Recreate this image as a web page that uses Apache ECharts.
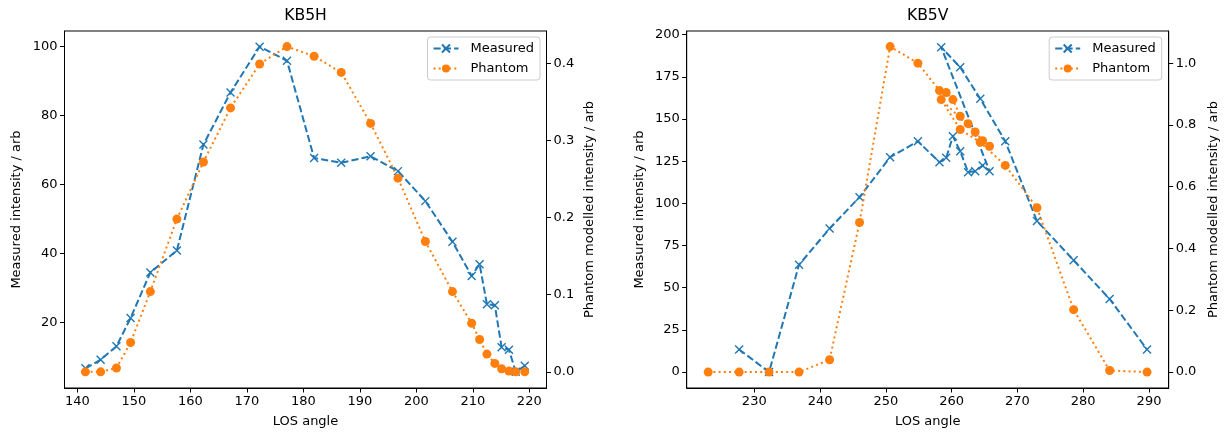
<!DOCTYPE html>
<html><head><meta charset="utf-8">
<script src="https://cdn.jsdelivr.net/npm/echarts@6/dist/echarts.min.js"></script>
<style>html,body{margin:0;padding:0;background:#fff}#c{width:1227px;height:433px}</style>
</head><body><div id="c"></div><script>
// ---- KB5H (left panel) ----
const kb5hAngle    = [141.4, 144.1, 146.9, 149.4, 152.9, 157.6, 162.3, 167.1, 172.25, 177.1, 181.9, 186.7, 191.9, 196.75, 201.6, 206.4, 209.8, 211.2, 212.5, 213.9, 215.1, 216.4, 217.6, 219.2];
const kb5hMeasured = [6.7, 9.2, 13.1, 21.3, 34.5, 40.9, 71.6, 86.7, 100.0, 95.9, 67.7, 66.3, 68.2, 63.9, 55.2, 43.4, 33.5, 36.9, 25.3, 25.0, 12.8, 12.1, 5.7, 7.45];
const kb5hPhantom  = [0.0, 0.0, 0.005, 0.038, 0.104, 0.198, 0.272, 0.342, 0.399, 0.4215, 0.409, 0.388, 0.322, 0.251, 0.169, 0.104, 0.063, 0.042, 0.023, 0.011, 0.004, 0.001, 0.0, 0.0];
const kb5hXTicks    = [140, 150, 160, 170, 180, 190, 200, 210, 220];
const kb5hMeasTicks = [20, 40, 60, 80, 100];
const kb5hPhanTicks = [0.0, 0.1, 0.2, 0.3, 0.4];

// ---- KB5V (right panel) ----
const kb5vAngle    = [223.0, 227.7, 232.25, 236.8, 241.45, 246.0, 250.65, 254.87, 258.15, 259.17, 260.19, 261.3, 262.5, 263.58, 264.7, 265.76, 258.41, 261.3, 264.35, 268.15, 272.97, 278.54, 284.01, 289.7];
const kb5vMeasured = [null, 13.4, 0.0, 63.6, 85.1, 103.7, 127.4, 136.8, 124.4, 127.0, 139.8, 130.9, 118.5, 119.1, 122.4, 119.1, 192.6, 180.7, 162.0, 136.8, 89.5, 66.3, 43.3, 13.4];
const kb5vPhantom  = [0.0, 0.0, 0.0, 0.0, 0.040, 0.484, 1.0535, 1.0, 0.911, 0.905, 0.882, 0.828, 0.804, 0.777, 0.749, 0.731, 0.882, 0.785, 0.744, 0.669, 0.532, 0.202, 0.005, 0.0];
const kb5vXTicks    = [230, 240, 250, 260, 270, 280, 290];
const kb5vMeasTicks = [0, 25, 50, 75, 100, 125, 150, 175, 200];
const kb5vPhanTicks = [0.0, 0.2, 0.4, 0.6, 0.8, 1.0];

const titles = ['KB5H', 'KB5V'];
const seriesNames = ['Measured', 'Phantom'];
const xName = 'LOS angle';
const yLeftName = 'Measured intensity / arb';
const yRightName = 'Phantom modelled intensity / arb';

const FONT = 'DejaVu Sans';
const BLUE = '#1f77b4', ORANGE = '#ff7f0e';
const PLOT_TOP = 31, PLOT_H = 358, PLOT_W = 482;
const GRID_LEFT = [64.5, 686.7];

function zip(xs, ys) { return xs.map((x, i) => [x, ys[i]]); }

function axisBase(ticks, fmt) {
  return {
    type: 'value',
    axisLine: { show: true, onZero: false, lineStyle: { color: '#000', width: 1 } },
    axisTick: { show: true, inside: false, length: 4.5, lineStyle: { color: '#000', width: 1 }, customValues: ticks },
    axisLabel: { show: true, customValues: ticks, margin: 7, color: '#000', fontSize: 13, fontFamily: FONT, formatter: fmt },
    splitLine: { show: false },
    nameLocation: 'middle',
    nameTextStyle: { color: '#000', fontSize: 13, fontFamily: FONT }
  };
}
const fmtInt = v => String(Math.round(v));
const fmt1 = v => v.toFixed(1);

const xAxes = [
  Object.assign(axisBase(kb5hXTicks, fmtInt), { gridIndex: 0, min: 137.7, max: 223.05, name: xName, nameGap: 27 }),
  Object.assign(axisBase(kb5vXTicks, fmtInt), { gridIndex: 1, min: 219.73, max: 292.99, name: xName, nameGap: 27 })
];
const yAxes = [
  Object.assign(axisBase(kb5hMeasTicks, fmtInt), { gridIndex: 0, position: 'left', min: 1.0, max: 104.54, name: yLeftName, nameGap: 41 }),
  Object.assign(axisBase(kb5hPhanTicks, fmt1), { gridIndex: 0, position: 'right', min: -0.0209, max: 0.4417, name: yRightName, nameGap: 37 }),
  Object.assign(axisBase(kb5vMeasTicks, fmtInt), { gridIndex: 1, position: 'left', min: -9.45, max: 202.2, name: yLeftName, nameGap: 41 }),
  Object.assign(axisBase(kb5vPhanTicks, fmt1), { gridIndex: 1, position: 'right', min: -0.0516, max: 1.104, name: yRightName, nameGap: 38 })
];

const xSymbol = 'path://M0,0L10,10M10,0L0,10';
function measuredSeries(xi, yi, data) {
  return {
    type: 'line', name: seriesNames[0], xAxisIndex: xi, yAxisIndex: yi, data: data,
    symbol: xSymbol, symbolSize: 8,
    itemStyle: { color: BLUE, borderColor: BLUE, borderWidth: 1.4 },
    lineStyle: { color: BLUE, width: 2, type: [7.2, 3.1], cap: 'butt' },
    emphasis: { disabled: true }, z: 2
  };
}
function phantomSeries(xi, yi, data) {
  return {
    type: 'line', name: seriesNames[1], xAxisIndex: xi, yAxisIndex: yi, data: data,
    symbol: 'circle', symbolSize: 9,
    itemStyle: { color: ORANGE, borderWidth: 0 },
    lineStyle: { color: ORANGE, width: 2, type: [2, 3.2], cap: 'butt' },
    emphasis: { disabled: true }, z: 3
  };
}

function legendCfg(right) {
  return {
    data: seriesNames, orient: 'vertical', right: right, top: 37,
    backgroundColor: 'rgba(255,255,255,0.8)', borderColor: '#cccccc', borderWidth: 1, borderRadius: 3,
    padding: [5, 6, 5, 5], itemGap: 7, itemWidth: 25, itemHeight: 10,
    textStyle: { color: '#000', fontSize: 13, fontFamily: FONT, padding: [0, 0, 0, 7] },
    selectedMode: false
  };
}

const option = {
  animation: false,
  backgroundColor: '#fff',
  textStyle: { fontFamily: FONT },
  grid: GRID_LEFT.map(l => ({ left: l, top: PLOT_TOP, width: PLOT_W, height: PLOT_H, show: true, borderColor: '#000', borderWidth: 1, backgroundColor: 'transparent' })),
  graphic: titles.map((t, i) => ({
    type: 'text', x: GRID_LEFT[i] + PLOT_W / 2, y: 16,
    style: { text: t, align: 'center', verticalAlign: 'middle', fill: '#000', fontSize: 15.6, fontFamily: FONT }
  })),
  legend: [legendCfg(1227 - 540), legendCfg(1227 - 1161.7)],
  xAxis: xAxes,
  yAxis: yAxes,
  series: [
    measuredSeries(0, 0, zip(kb5hAngle, kb5hMeasured)),
    phantomSeries(0, 1, zip(kb5hAngle, kb5hPhantom)),
    measuredSeries(1, 2, zip(kb5vAngle, kb5vMeasured)),
    phantomSeries(1, 3, zip(kb5vAngle, kb5vPhantom))
  ]
};
const chart = echarts.init(document.getElementById('c'), null, { renderer: 'canvas' });
chart.setOption(option);
</script></body></html>
